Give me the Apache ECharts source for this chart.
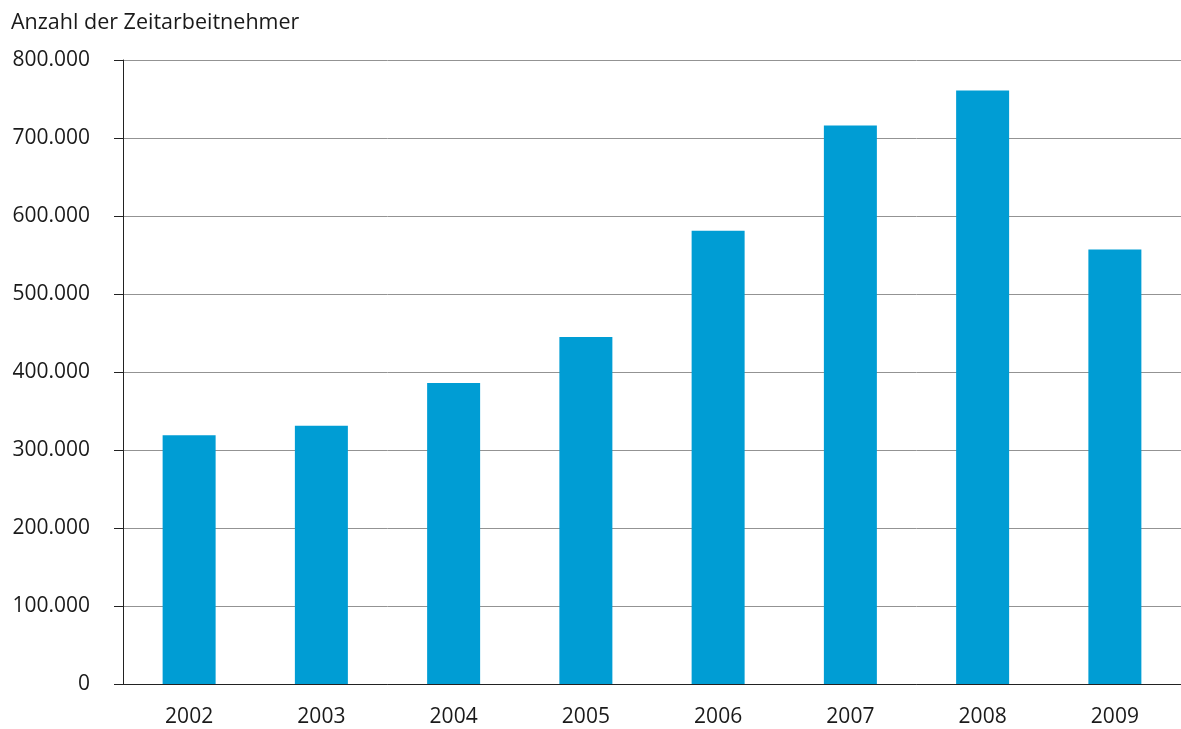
<!DOCTYPE html>
<html>
<head>
<meta charset="utf-8">
<script src="https://cdn.jsdelivr.net/npm/echarts@6/dist/echarts.min.js"></script>
<style>
html,body{margin:0;padding:0;background:#fff;}
#chart{width:1181px;height:729px;}
</style>
</head>
<body>
<div id="chart"></div>
<script>
const years = ['2002','2003','2004','2005','2006','2007','2008','2009'];
const workers = [319000, 331000, 386000, 445000, 581000, 716000, 761000, 557000];
const yTitle = 'Anzahl der Zeitarbeitnehmer';

const fmt = v => v === 0 ? '0' : String(v).replace(/\B(?=(\d{3})+(?!\d))/g, '.');
const FONT = 'Open Sans';

const chart = echarts.init(document.getElementById('chart'), null, {renderer:'canvas'});
chart.setOption({
  animation: false,
  title: {
    text: yTitle, left: 6, top: 7,
    textStyle: {fontFamily: FONT, fontSize: 21.5, fontWeight: 'normal', color: '#1a1a1a'}
  },
  grid: {left: 123, right: 0, top: 60, bottom: 45, containLabel: false},
  xAxis: {
    type: 'category', data: years,
    axisLine: {lineStyle: {color: '#222', width: 1}},
    axisTick: {length: 8, lineStyle: {color: '#222'}},
    axisLabel: {margin: 23, fontFamily: FONT, fontSize: 21, color: '#1a1a1a'}
  },
  yAxis: {
    type: 'value', min: 0, max: 800000, interval: 100000,
    axisLine: {show: true, lineStyle: {color: '#222', width: 1}},
    axisTick: {show: true, length: 9, lineStyle: {color: '#222'}},
    axisLabel: {margin: 33, fontFamily: FONT, fontSize: 21, color: '#1a1a1a', formatter: fmt},
    splitLine: {lineStyle: {color: '#939393', width: 1}}
  },
  series: [{
    type: 'bar', data: workers, barWidth: 53,
    itemStyle: {color: '#009dd4'}
  }]
});
</script>
</body>
</html>
